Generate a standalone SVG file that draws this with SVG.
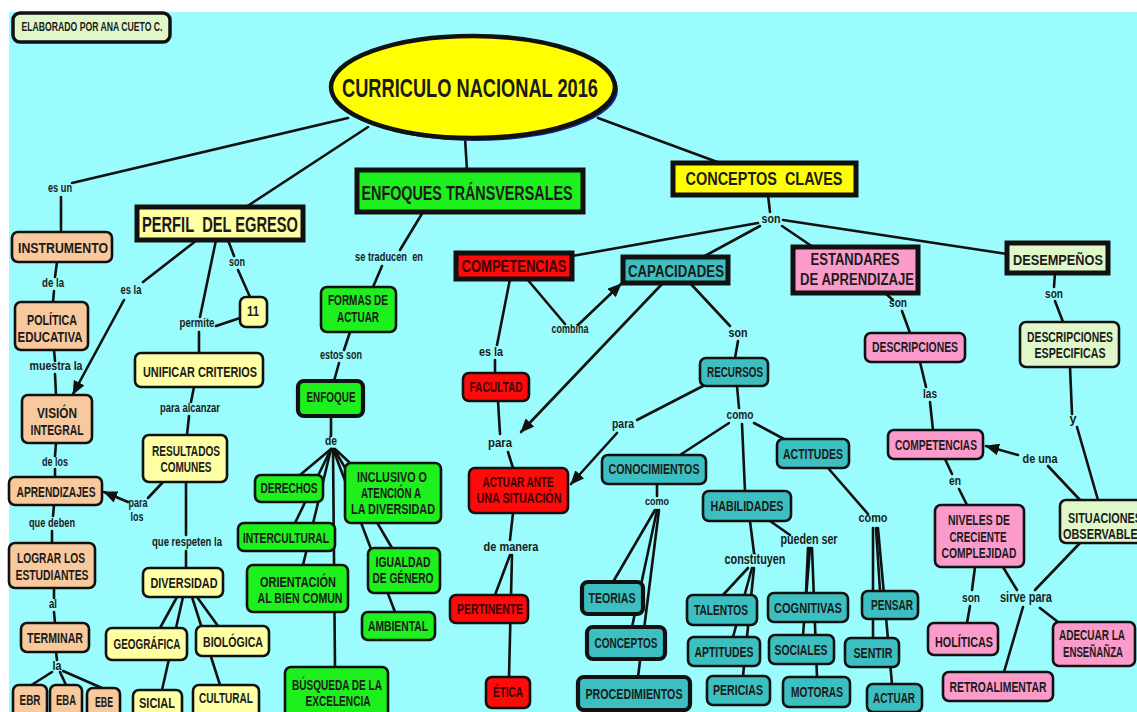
<svg xmlns="http://www.w3.org/2000/svg" width="1137" height="712" viewBox="0 0 1137 712">
<defs>
<style>
.c{stroke:#111;stroke-width:2.6;fill:none;stroke-linecap:round}
.n{stroke:#111;stroke-width:2.6}
.k{stroke-width:4.2}
.h{stroke:#111;stroke-width:5}
.pe{fill:#F8C99D}
.py{fill:#FFFFA3}
.gr{fill:#1DF01D}
.rd{fill:#FF0A0A}
.tl{fill:#3BBFC0}
.pk{fill:#FB9BCB}
.pg{fill:#E0F7C9}
.yl{fill:#FFFF00}
text{font-family:"Liberation Sans","DejaVu Sans",sans-serif;font-weight:bold;fill:#1b1b1b;text-anchor:middle}
.t{font-size:14.5px}
.l{font-size:13px}
.rt{fill:#3a0505}
</style>
<marker id="ah" viewBox="0 0 14 12" refX="13" refY="6" markerWidth="14" markerHeight="12" markerUnits="userSpaceOnUse" orient="auto"><path d="M0,0 L14,6 L0,12 z" fill="#111"/></marker>
</defs>
<rect width="1137" height="712" fill="#fff"/>
<rect x="9" y="12" width="1128" height="700" fill="#9AFCFC"/>

<g id="connectors">
<path class="c" d="M348,118 L72,183"/>
<path class="c" d="M61,197 L61,232"/>
<path class="c" d="M368,127 L246,207"/>
<path class="c" d="M465,138 L467,170"/>
<path class="c" d="M598,118 L720,163"/>
<path class="c" d="M768,195 L770,212"/>
<path class="c" d="M758,223 L572,256"/>
<path class="c" d="M760,226 L703,257"/>
<path class="c" d="M782,226 L813,247"/>
<path class="c" d="M783,220 L1007,254"/>
<path class="c" d="M197,240 L143,282"/>
<path class="c" d="M124,300 L73,394" marker-end="url(#ah)"/>
<path class="c" d="M228,240 L234,256"/>
<path class="c" d="M238,270 L250,297"/>
<path class="c" d="M216,240 L200,317"/>
<path class="c" d="M216,326 L240,318"/>
<path class="c" d="M199,332 L199,353"/>
<path class="c" d="M194,387 L191,402"/>
<path class="c" d="M189,416 L187,435"/>
<path class="c" d="M163,482 L148,498"/>
<path class="c" d="M128,502 L104,492" marker-end="url(#ah)"/>
<path class="c" d="M186,482 L186,535"/>
<path class="c" d="M186,551 L186,568"/>
<path class="c" d="M177,597 L160,628"/>
<path class="c" d="M183,597 L162,690"/>
<path class="c" d="M197,597 L218,626"/>
<path class="c" d="M192,597 L220,685"/>
<path class="c" d="M57,262 L55,277"/>
<path class="c" d="M54,291 L53,302"/>
<path class="c" d="M54,350 L55,361"/>
<path class="c" d="M55,374 L56,395"/>
<path class="c" d="M56,443 L55,456"/>
<path class="c" d="M55,469 L55,477"/>
<path class="c" d="M54,505 L53,516"/>
<path class="c" d="M52,531 L52,543"/>
<path class="c" d="M54,588 L54,598"/>
<path class="c" d="M54,612 L55,623"/>
<path class="c" d="M56,652 L57,660"/>
<path class="c" d="M52,672 L30,686"/>
<path class="c" d="M60,672 L66,685"/>
<path class="c" d="M63,671 L102,688"/>
<path class="c" d="M423,212 L400,250"/>
<path class="c" d="M382,266 L373,287"/>
<path class="c" d="M350,332 L344,350"/>
<path class="c" d="M339,363 L334,381"/>
<path class="c" d="M331,416 L331,436"/>
<path class="c" d="M331,449 L300,475"/>
<path class="c" d="M331,449 L295,523"/>
<path class="c" d="M331,449 L303,565"/>
<path class="c" d="M333,449 L335,667"/>
<path class="c" d="M335,449 L350,463"/>
<path class="c" d="M334,449 L392,548"/>
<path class="c" d="M333,449 L395,612"/>
<path class="c" d="M510,279 L497,345"/>
<path class="c" d="M495,360 L495,373"/>
<path class="c" d="M498,401 L500,434"/>
<path class="c" d="M508,452 L513,468"/>
<path class="c" d="M527,279 L565,324"/>
<path class="c" d="M578,325 L621,284" marker-end="url(#ah)"/>
<path class="c" d="M662,284 L521,432" marker-end="url(#ah)"/>
<path class="c" d="M513,513 L510,540"/>
<path class="c" d="M510,555 L495,595"/>
<path class="c" d="M512,555 L509,677"/>
<path class="c" d="M690,283 L730,326"/>
<path class="c" d="M738,341 L735,358"/>
<path class="c" d="M703,386 L637,420"/>
<path class="c" d="M617,433 L571,484" marker-end="url(#ah)"/>
<path class="c" d="M737,386 L739,408"/>
<path class="c" d="M729,423 L680,455"/>
<path class="c" d="M754,423 L784,439"/>
<path class="c" d="M742,424 L745,491"/>
<path class="c" d="M657,484 L657,496"/>
<path class="c" d="M655,510 L613,582"/>
<path class="c" d="M657,510 L632,627"/>
<path class="c" d="M659,510 L638,677"/>
<path class="c" d="M750,521 L754,553"/>
<path class="c" d="M748,568 L723,595"/>
<path class="c" d="M752,568 L733,637"/>
<path class="c" d="M754,568 L743,676"/>
<path class="c" d="M770,521 L790,535"/>
<path class="c" d="M808,548 L806,593"/>
<path class="c" d="M810,548 L803,635"/>
<path class="c" d="M812,548 L817,677"/>
<path class="c" d="M828,468 L868,514"/>
<path class="c" d="M876,528 L880,591"/>
<path class="c" d="M873,528 L873,638"/>
<path class="c" d="M878,528 L892,684"/>
<path class="c" d="M885,293 L893,300"/>
<path class="c" d="M902,311 L910,333"/>
<path class="c" d="M920,362 L926,387"/>
<path class="c" d="M930,402 L933,430"/>
<path class="c" d="M945,459 L952,474"/>
<path class="c" d="M959,489 L967,505"/>
<path class="c" d="M975,567 L972,590"/>
<path class="c" d="M970,606 L967,623"/>
<path class="c" d="M1003,567 L1017,590"/>
<path class="c" d="M1080,543 L1035,590"/>
<path class="c" d="M1023,607 L1004,672"/>
<path class="c" d="M1040,608 L1058,622"/>
<path class="c" d="M1055,273 L1054,287"/>
<path class="c" d="M1055,301 L1063,322"/>
<path class="c" d="M1070,367 L1072,414"/>
<path class="c" d="M1077,427 L1098,500"/>
<path class="c" d="M1080,500 L1048,466"/>
<path class="c" d="M1018,455 L986,446" marker-end="url(#ah)"/>
</g>

<g id="labels">
<text class="l" x="60" y="192" textLength="24" lengthAdjust="spacingAndGlyphs">es un</text>
<text class="l" x="131" y="294" textLength="21" lengthAdjust="spacingAndGlyphs">es la</text>
<text class="l" x="237" y="266" textLength="16" lengthAdjust="spacingAndGlyphs">son</text>
<text class="l" x="197" y="327" textLength="35" lengthAdjust="spacingAndGlyphs">permite</text>
<text class="l" x="53" y="287" textLength="22" lengthAdjust="spacingAndGlyphs">de la</text>
<text class="l" x="56" y="370" textLength="53" lengthAdjust="spacingAndGlyphs">muestra la</text>
<text class="l" x="55" y="466" textLength="26" lengthAdjust="spacingAndGlyphs">de los</text>
<text class="l" x="52" y="527" textLength="46" lengthAdjust="spacingAndGlyphs">que deben</text>
<text class="l" x="53" y="608" textLength="8" lengthAdjust="spacingAndGlyphs">al</text>
<text class="l" x="57" y="670" textLength="9" lengthAdjust="spacingAndGlyphs">la</text>
<text class="l" x="190" y="412" textLength="60" lengthAdjust="spacingAndGlyphs">para alcanzar</text>
<text class="l" x="138" y="507" textLength="19" lengthAdjust="spacingAndGlyphs">para</text>
<text class="l" x="137" y="521" textLength="13" lengthAdjust="spacingAndGlyphs">los</text>
<text class="l" x="187" y="546" textLength="70" lengthAdjust="spacingAndGlyphs">que respeten la</text>
<text class="l" x="389" y="261" textLength="68" lengthAdjust="spacingAndGlyphs">se traducen&#160; en</text>
<text class="l" x="341" y="359" textLength="42" lengthAdjust="spacingAndGlyphs">estos son</text>
<text class="l" x="331" y="445" textLength="12" lengthAdjust="spacingAndGlyphs">de</text>
<text class="l" x="491" y="356" textLength="24" lengthAdjust="spacingAndGlyphs">es la</text>
<text class="l" x="500" y="447" textLength="24" lengthAdjust="spacingAndGlyphs">para</text>
<text class="l" x="570" y="333" textLength="37" lengthAdjust="spacingAndGlyphs">combina</text>
<text class="l" x="511" y="551" textLength="55" lengthAdjust="spacingAndGlyphs">de manera</text>
<text class="l" x="738" y="337" textLength="19" lengthAdjust="spacingAndGlyphs">son</text>
<text class="l" x="623" y="428" textLength="22" lengthAdjust="spacingAndGlyphs">para</text>
<text class="l" x="740" y="419" textLength="27" lengthAdjust="spacingAndGlyphs">como</text>
<text class="l" x="657" y="505" textLength="24" lengthAdjust="spacingAndGlyphs" style="font-size:11px">como</text>
<text class="l" x="755" y="564" textLength="61" lengthAdjust="spacingAndGlyphs" style="font-size:14.5px">constituyen</text>
<text class="l" x="809" y="544" textLength="57" lengthAdjust="spacingAndGlyphs" style="font-size:14.5px">pueden ser</text>
<text class="l" x="873" y="522" textLength="29" lengthAdjust="spacingAndGlyphs">como</text>
<text class="l" x="771" y="223" textLength="19" lengthAdjust="spacingAndGlyphs">son</text>
<text class="l" x="898" y="307" textLength="18" lengthAdjust="spacingAndGlyphs">son</text>
<text class="l" x="930" y="398" textLength="14" lengthAdjust="spacingAndGlyphs">las</text>
<text class="l" x="955" y="485" textLength="12" lengthAdjust="spacingAndGlyphs">en</text>
<text class="l" x="971" y="602" textLength="18" lengthAdjust="spacingAndGlyphs">son</text>
<text class="l" x="1026" y="602" textLength="52" lengthAdjust="spacingAndGlyphs" style="font-size:14.5px">sirve para</text>
<text class="l" x="1054" y="298" textLength="18" lengthAdjust="spacingAndGlyphs">son</text>
<text class="l" x="1073" y="423" textLength="7" lengthAdjust="spacingAndGlyphs">y</text>
<text class="l" x="1040" y="463" textLength="35" lengthAdjust="spacingAndGlyphs">de una</text>
</g>

<g id="n-elaborado"><rect class="n pg" x="13" y="13" width="157" height="29" rx="7" style="stroke-width:3.5"/><text x="92" y="31" style="font-size:12px" textLength="141" lengthAdjust="spacingAndGlyphs">ELABORADO POR ANA CUETO C.</text></g>
<g id="n-curriculo"><ellipse cx="476" cy="90" rx="142" ry="51" fill="#1a2a8a"/><ellipse class="n yl" cx="473" cy="87" rx="142" ry="51" style="stroke-width:4.5"/><text x="470" y="97" style="font-size:26px" textLength="256" lengthAdjust="spacingAndGlyphs">CURRICULO NACIONAL 2016</text></g>
<g id="n-enfoques"><rect class="h gr" x="357" y="170" width="226" height="42"/><text x="467" y="200" style="font-size:20px" textLength="211" lengthAdjust="spacingAndGlyphs">ENFOQUES TRÁNSVERSALES</text></g>
<g id="n-conceptos-claves"><rect class="h yl" x="673" y="163" width="183" height="32"/><text x="764" y="185" style="font-size:19px" textLength="157" lengthAdjust="spacingAndGlyphs">CONCEPTOS&#160; CLAVES</text></g>
<g id="n-perfil"><rect class="h py" x="137" y="207" width="166" height="33"/><text x="220" y="232" style="font-size:22px" textLength="156" lengthAdjust="spacingAndGlyphs">PERFIL&#160; DEL EGRESO</text></g>

<g id="n-instrumento"><rect class="n pe" x="12" y="232" width="100" height="30" rx="6"/><text class="t" x="63" y="253" textLength="90" lengthAdjust="spacingAndGlyphs">INSTRUMENTO</text></g>
<g id="n-politica"><rect class="n pe" x="15" y="302" width="73" height="48" rx="6"/><text class="t" x="52" y="325" textLength="50" lengthAdjust="spacingAndGlyphs">POLÍTICA</text><text class="t" x="50" y="342" textLength="65" lengthAdjust="spacingAndGlyphs">EDUCATIVA</text></g>
<g id="n-vision"><rect class="n pe" x="22" y="395" width="70" height="48" rx="6"/><text class="t" x="57" y="418" textLength="40" lengthAdjust="spacingAndGlyphs">VISIÓN</text><text class="t" x="57" y="435" textLength="53" lengthAdjust="spacingAndGlyphs">INTEGRAL</text></g>
<g id="n-aprendizajes"><rect class="n pe" x="9" y="477" width="93" height="28" rx="6"/><text class="t" x="56" y="497" textLength="79" lengthAdjust="spacingAndGlyphs">APRENDIZAJES</text></g>
<g id="n-lograr"><rect class="n pe" x="9" y="543" width="86" height="45" rx="6"/><text class="t" x="51" y="563" textLength="68" lengthAdjust="spacingAndGlyphs">LOGRAR LOS</text><text class="t" x="52" y="580" textLength="73" lengthAdjust="spacingAndGlyphs">ESTUDIANTES</text></g>
<g id="n-terminar"><rect class="n pe" x="21" y="623" width="68" height="29" rx="6"/><text class="t" x="55" y="643" textLength="56" lengthAdjust="spacingAndGlyphs">TERMINAR</text></g>
<g id="n-ebr"><rect class="n pe" x="13" y="685" width="34" height="32" rx="6"/><text class="t" x="30" y="705" textLength="21" lengthAdjust="spacingAndGlyphs">EBR</text></g>
<g id="n-eba"><rect class="n pe" x="50" y="685" width="32" height="32" rx="6"/><text class="t" x="66" y="705" textLength="20" lengthAdjust="spacingAndGlyphs">EBA</text></g>
<g id="n-ebe"><rect class="n pe" x="87" y="688" width="33" height="30" rx="6"/><text class="t" x="104" y="707" textLength="18" lengthAdjust="spacingAndGlyphs">EBE</text></g>

<g id="n-11"><rect class="n py" x="240" y="297" width="27" height="30" rx="6"/><text class="t" x="253" y="316" textLength="12" lengthAdjust="spacingAndGlyphs">11</text></g>
<g id="n-unificar"><rect class="n py" x="135" y="353" width="128" height="34" rx="6"/><text class="t" x="200" y="377" textLength="114" lengthAdjust="spacingAndGlyphs">UNIFICAR CRITERIOS</text></g>
<g id="n-resultados"><rect class="n py" x="143" y="435" width="84" height="47" rx="6"/><text class="t" x="186" y="456" textLength="68" lengthAdjust="spacingAndGlyphs">RESULTADOS</text><text class="t" x="186" y="472" textLength="51" lengthAdjust="spacingAndGlyphs">COMUNES</text></g>
<g id="n-diversidad"><rect class="n py" x="143" y="568" width="80" height="29" rx="6"/><text class="t" x="184" y="588" textLength="67" lengthAdjust="spacingAndGlyphs">DIVERSIDAD</text></g>
<g id="n-geografica"><rect class="n py" x="106" y="628" width="81" height="32" rx="6"/><text class="t" x="147" y="649" textLength="67" lengthAdjust="spacingAndGlyphs">GEOGRÁFICA</text></g>
<g id="n-biologica"><rect class="n py" x="196" y="626" width="73" height="30" rx="6"/><text class="t" x="233" y="647" textLength="60" lengthAdjust="spacingAndGlyphs">BIOLÓGICA</text></g>
<g id="n-sicial"><rect class="n py" x="133" y="690" width="49" height="30" rx="6"/><text class="t" x="157" y="708" textLength="36" lengthAdjust="spacingAndGlyphs">SICIAL</text></g>
<g id="n-cultural"><rect class="n py" x="193" y="685" width="66" height="32" rx="6"/><text class="t" x="226" y="703" textLength="54" lengthAdjust="spacingAndGlyphs">CULTURAL</text></g>

<g id="n-formas"><rect class="n gr" x="321" y="287" width="75" height="45" rx="6"/><text class="t" x="358" y="305" textLength="60" lengthAdjust="spacingAndGlyphs">FORMAS DE</text><text class="t" x="358" y="322" textLength="42" lengthAdjust="spacingAndGlyphs">ACTUAR</text></g>
<g id="n-enfoque"><rect class="n k gr" x="298" y="381" width="65" height="35" rx="6"/><text class="t" x="331" y="402" textLength="49" lengthAdjust="spacingAndGlyphs">ENFOQUE</text></g>
<g id="n-derechos"><rect class="n gr" x="255" y="475" width="68" height="27" rx="6"/><text class="t" x="289" y="493" textLength="57" lengthAdjust="spacingAndGlyphs">DERECHOS</text></g>
<g id="n-intercultural"><rect class="n gr" x="238" y="523" width="97" height="28" rx="6"/><text class="t" x="286" y="543" textLength="86" lengthAdjust="spacingAndGlyphs">INTERCULTURAL</text></g>
<g id="n-orientacion"><rect class="n gr" x="247" y="565" width="101" height="47" rx="6"/><text class="t" x="298" y="587" textLength="76" lengthAdjust="spacingAndGlyphs">ORIENTACIÓN</text><text class="t" x="300" y="603" textLength="85" lengthAdjust="spacingAndGlyphs">AL BIEN COMUN</text></g>
<g id="n-busqueda"><rect class="n gr" x="285" y="667" width="103" height="50" rx="6"/><text class="t" x="337" y="690" textLength="90" lengthAdjust="spacingAndGlyphs">BÚSQUEDA DE LA</text><text class="t" x="338" y="706" textLength="65" lengthAdjust="spacingAndGlyphs">EXCELENCIA</text></g>
<g id="n-inclusivo"><rect class="n gr" x="345" y="463" width="96" height="60" rx="6"/><text class="t" x="392" y="482" textLength="70" lengthAdjust="spacingAndGlyphs">INCLUSIVO O</text><text class="t" x="391" y="498" textLength="60" lengthAdjust="spacingAndGlyphs">ATENCIÓN A</text><text class="t" x="393" y="514" textLength="84" lengthAdjust="spacingAndGlyphs">LA DIVERSIDAD</text></g>
<g id="n-igualdad"><rect class="n gr" x="368" y="548" width="72" height="45" rx="6"/><text class="t" x="403" y="567" textLength="55" lengthAdjust="spacingAndGlyphs">IGUALDAD</text><text class="t" x="403" y="583" textLength="61" lengthAdjust="spacingAndGlyphs">DE GÉNERO</text></g>
<g id="n-ambiental"><rect class="n gr" x="362" y="612" width="73" height="28" rx="6"/><text class="t" x="398" y="631" textLength="60" lengthAdjust="spacingAndGlyphs">AMBIENTAL</text></g>

<g id="n-competencias"><rect class="h rd" x="456" y="253" width="116" height="26"/><text class="rt" x="514" y="272" style="font-size:17px" textLength="105" lengthAdjust="spacingAndGlyphs">COMPETENCIAS</text></g>
<g id="n-facultad"><rect class="n rd" x="463" y="373" width="66" height="28" rx="6"/><text class="t rt" x="496" y="392" textLength="53" lengthAdjust="spacingAndGlyphs">FACULTAD</text></g>
<g id="n-actuar-ante"><rect class="n rd" x="469" y="468" width="99" height="45" rx="6"/><text class="t rt" x="518" y="487" textLength="71" lengthAdjust="spacingAndGlyphs">ACTUAR ANTE</text><text class="t rt" x="519" y="503" textLength="85" lengthAdjust="spacingAndGlyphs">UNA SITUACIÓN</text></g>
<g id="n-pertinente"><rect class="n rd" x="450" y="595" width="78" height="28" rx="6"/><text class="t rt" x="490" y="614" textLength="66" lengthAdjust="spacingAndGlyphs">PERTINENTE</text></g>
<g id="n-etica"><rect class="n rd" x="486" y="677" width="44" height="31" rx="6"/><text class="t rt" x="508" y="697" textLength="30" lengthAdjust="spacingAndGlyphs">ÉTICA</text></g>

<g id="n-capacidades"><rect class="h tl" x="623" y="257" width="105" height="26"/><text x="676" y="277" style="font-size:16px" textLength="96" lengthAdjust="spacingAndGlyphs">CAPACIDADES</text></g>
<g id="n-recursos"><rect class="n tl" x="700" y="358" width="68" height="28" rx="6"/><text class="t" x="735" y="377" textLength="56" lengthAdjust="spacingAndGlyphs">RECURSOS</text></g>
<g id="n-actitudes"><rect class="n tl" x="777" y="439" width="72" height="29" rx="6"/><text class="t" x="813" y="459" textLength="60" lengthAdjust="spacingAndGlyphs">ACTITUDES</text></g>
<g id="n-conocimientos"><rect class="n tl" x="602" y="455" width="104" height="29" rx="6"/><text class="t" x="654" y="474" textLength="91" lengthAdjust="spacingAndGlyphs">CONOCIMIENTOS</text></g>
<g id="n-habilidades"><rect class="n tl" x="703" y="491" width="88" height="30" rx="6"/><text class="t" x="747" y="511" textLength="73" lengthAdjust="spacingAndGlyphs">HABILIDADES</text></g>
<g id="n-teorias"><rect class="n k tl" x="582" y="582" width="61" height="32" rx="6"/><text class="t" x="612" y="603" textLength="47" lengthAdjust="spacingAndGlyphs">TEORIAS</text></g>
<g id="n-conceptos"><rect class="n k tl" x="587" y="627" width="78" height="32" rx="6"/><text class="t" x="626" y="648" textLength="63" lengthAdjust="spacingAndGlyphs">CONCEPTOS</text></g>
<g id="n-procedimientos"><rect class="n k tl" x="578" y="677" width="112" height="33" rx="6"/><text class="t" x="634" y="699" textLength="97" lengthAdjust="spacingAndGlyphs">PROCEDIMIENTOS</text></g>
<g id="n-talentos"><rect class="n tl" x="687" y="595" width="70" height="30" rx="6"/><text class="t" x="721" y="615" textLength="54" lengthAdjust="spacingAndGlyphs">TALENTOS</text></g>
<g id="n-aptitudes"><rect class="n tl" x="688" y="637" width="72" height="29" rx="6"/><text class="t" x="724" y="657" textLength="59" lengthAdjust="spacingAndGlyphs">APTITUDES</text></g>
<g id="n-pericias"><rect class="n tl" x="707" y="676" width="63" height="29" rx="6"/><text class="t" x="738" y="695" textLength="50" lengthAdjust="spacingAndGlyphs">PERICIAS</text></g>
<g id="n-cognitivas"><rect class="n tl" x="768" y="593" width="80" height="29" rx="6"/><text class="t" x="808" y="613" textLength="68" lengthAdjust="spacingAndGlyphs">COGNITIVAS</text></g>
<g id="n-sociales"><rect class="n tl" x="769" y="635" width="65" height="29" rx="6"/><text class="t" x="801" y="655" textLength="53" lengthAdjust="spacingAndGlyphs">SOCIALES</text></g>
<g id="n-motoras"><rect class="n tl" x="783" y="677" width="67" height="30" rx="6"/><text class="t" x="817" y="697" textLength="52" lengthAdjust="spacingAndGlyphs">MOTORAS</text></g>
<g id="n-pensar"><rect class="n tl" x="862" y="591" width="56" height="28" rx="6"/><text class="t" x="892" y="610" textLength="42" lengthAdjust="spacingAndGlyphs">PENSAR</text></g>
<g id="n-sentir"><rect class="n tl" x="845" y="638" width="54" height="29" rx="6"/><text class="t" x="873" y="658" textLength="39" lengthAdjust="spacingAndGlyphs">SENTIR</text></g>
<g id="n-actuar"><rect class="n tl" x="867" y="684" width="55" height="28" rx="6"/><text class="t" x="894" y="703" textLength="42" lengthAdjust="spacingAndGlyphs">ACTUAR</text></g>

<g id="n-estandares"><rect class="h pk" x="793" y="247" width="125" height="46"/><text x="855" y="265" style="font-size:16px" textLength="89" lengthAdjust="spacingAndGlyphs">ESTANDARES</text><text x="857" y="285" style="font-size:16px" textLength="114" lengthAdjust="spacingAndGlyphs">DE APRENDIZAJE</text></g>
<g id="n-descripciones"><rect class="n pk" x="865" y="333" width="100" height="29" rx="6"/><text class="t" x="915" y="352" textLength="86" lengthAdjust="spacingAndGlyphs">DESCRIPCIONES</text></g>
<g id="n-competencias-p"><rect class="n pk" x="888" y="430" width="95" height="29" rx="6"/><text class="t" x="936" y="450" textLength="82" lengthAdjust="spacingAndGlyphs">COMPETENCIAS</text></g>
<g id="n-niveles"><rect class="n pk" x="935" y="505" width="89" height="62" rx="6"/><text class="t" x="979" y="525" textLength="62" lengthAdjust="spacingAndGlyphs">NIVELES DE</text><text class="t" x="978" y="542" textLength="57" lengthAdjust="spacingAndGlyphs">CRECIENTE</text><text class="t" x="979" y="558" textLength="75" lengthAdjust="spacingAndGlyphs">COMPLEJIDAD</text></g>
<g id="n-holiticas"><rect class="n pk" x="928" y="623" width="70" height="32" rx="6"/><text class="t" x="964" y="647" textLength="58" lengthAdjust="spacingAndGlyphs">HOLÍTICAS</text></g>
<g id="n-retroalimentar"><rect class="n pk" x="943" y="672" width="110" height="29" rx="6"/><text class="t" x="998" y="692" textLength="97" lengthAdjust="spacingAndGlyphs">RETROALIMENTAR</text></g>
<g id="n-adecuar"><rect class="n pk" x="1053" y="622" width="82" height="44" rx="6"/><text class="t" x="1092" y="640" textLength="66" lengthAdjust="spacingAndGlyphs">ADECUAR LA</text><text class="t" x="1093" y="657" textLength="60" lengthAdjust="spacingAndGlyphs">ENSEÑAÑZA</text></g>

<g id="n-desempenos"><rect class="h pg" x="1007" y="243" width="101" height="30"/><text x="1058" y="265" style="font-size:15.5px" textLength="90" lengthAdjust="spacingAndGlyphs">DESEMPEÑOS</text></g>
<g id="n-descripciones-esp"><rect class="n pg" x="1020" y="322" width="99" height="45" rx="6"/><text class="t" x="1070" y="342" textLength="86" lengthAdjust="spacingAndGlyphs">DESCRIPCIONES</text><text class="t" x="1070" y="358" textLength="71" lengthAdjust="spacingAndGlyphs">ESPECIFICAS</text></g>
<g id="n-situaciones"><rect class="n pg" x="1060" y="500" width="95" height="43" rx="6"/><text class="t" x="1105" y="523" textLength="74" lengthAdjust="spacingAndGlyphs">SITUACIONES</text><text class="t" x="1104" y="539" textLength="82" lengthAdjust="spacingAndGlyphs">OBSERVABLES</text></g>
</svg>
